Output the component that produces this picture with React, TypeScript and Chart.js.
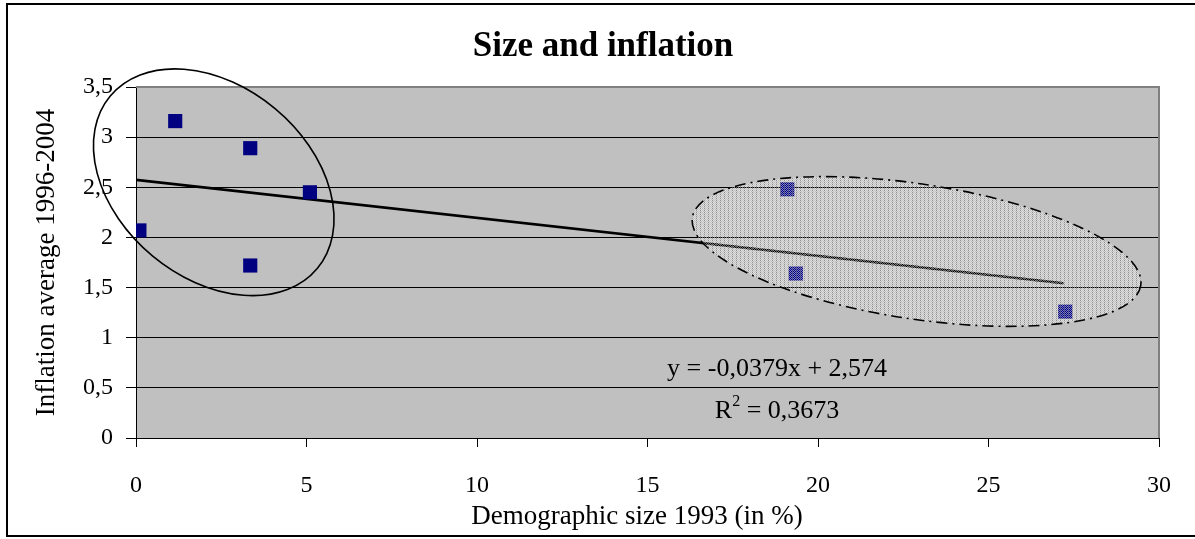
import React, { useEffect, useRef } from 'react';
import { Chart, registerables } from 'chart.js';

Chart.register(...registerables);

// ---- data ----
const sizeX = [0.1, 1.15, 3.35, 3.35, 5.1, 19.1, 19.35, 27.25];
const inflationY = [2.07, 3.16, 2.89, 1.72, 2.45, 2.48, 1.64, 1.26];
const trendX = [0, 27.2];
const trendY = [2.574, 1.543];
const xTickValues = [0, 5, 10, 15, 20, 25, 30];
const yTickValues = [0, 0.5, 1, 1.5, 2, 2.5, 3, 3.5];

const chartTitle = 'Size and inflation';
const xAxisTitle = 'Demographic size 1993 (in %)';
const yAxisTitle = 'Inflation average 1996-2004';
const equationText = 'y = -0,0379x + 2,574';
const r2Text = '0,3673';
const equationPos = [18.8, 0.69];
const r2Pos = [18.8, 0.27];

// ellipse annotations: centre (data), semi-axes (x-units), rotation (deg)
const ellipseCenterX = [2.28, 22.89];
const ellipseCenterY = [2.55, 1.86];
const ellipseSemiA = [3.95, 6.65];
const ellipseSemiB = [2.81, 1.98];
const ellipseRotation = [39.8, 8.6];

const SERIF = '"Liberation Serif", "Times New Roman", serif';

function makeStipple(): CanvasPattern | string {
  const c = document.createElement('canvas');
  c.width = 4;
  c.height = 2;
  const g = c.getContext('2d');
  if (!g) return 'rgba(220,220,220,0.5)';
  g.clearRect(0, 0, 4, 2);
  g.fillStyle = 'rgba(110,110,110,0.6)';
  g.fillRect(0, 0, 1, 1);
  g.fillStyle = 'rgba(255,255,255,0.5)';
  g.fillRect(1, 0, 1, 1);
  g.fillRect(3, 0, 1, 1);
  g.fillRect(2, 1, 1, 1);
  g.fillStyle = 'rgba(240,240,240,0.4)';
  g.fillRect(0, 1, 1, 1);
  const ctx = document.createElement('canvas').getContext('2d');
  return (ctx && ctx.createPattern(c, 'repeat')) || 'rgba(220,220,220,0.5)';
}

const decoPlugin = {
  id: 'deco',
  beforeDraw(chart: any) {
    const { ctx, chartArea, width, height } = chart;
    ctx.save();
    ctx.fillStyle = '#ffffff';
    ctx.fillRect(0, 0, width, height);
    ctx.strokeStyle = '#000000';
    ctx.lineWidth = 2;
    ctx.strokeRect(7, 4, width + 10, height - 7);
    ctx.fillStyle = '#c0c0c0';
    ctx.fillRect(chartArea.left, chartArea.top, chartArea.right - chartArea.left, chartArea.bottom - chartArea.top);
    ctx.restore();
  },
  beforeDatasetsDraw(chart: any) {
    const { ctx, chartArea } = chart;
    ctx.save();
    ctx.strokeStyle = '#808080';
    ctx.lineWidth = 2;
    ctx.beginPath();
    ctx.moveTo(chartArea.left, chartArea.top);
    ctx.lineTo(chartArea.right, chartArea.top);
    ctx.lineTo(chartArea.right, chartArea.bottom);
    ctx.stroke();
    ctx.restore();
  },
  afterDatasetsDraw(chart: any) {
    const { ctx } = chart;
    const xs = chart.scales.x;
    const ys = chart.scales.y;
    const pxPerUnit = xs.getPixelForValue(1) - xs.getPixelForValue(0);
    ctx.save();
    for (let i = 0; i < ellipseCenterX.length; i++) {
      const cx = xs.getPixelForValue(ellipseCenterX[i]);
      const cy = ys.getPixelForValue(ellipseCenterY[i]);
      const a = ellipseSemiA[i] * pxPerUnit;
      const b = ellipseSemiB[i] * pxPerUnit;
      const rot = (ellipseRotation[i] * Math.PI) / 180;
      ctx.beginPath();
      ctx.ellipse(cx, cy, a, b, rot, 0, Math.PI * 2);
      if (i === 1) {
        ctx.fillStyle = makeStipple();
        ctx.fill();
        ctx.setLineDash([11, 5, 2, 5]);
      } else {
        ctx.setLineDash([]);
      }
      ctx.strokeStyle = '#000000';
      ctx.lineWidth = 1.6;
      ctx.stroke();
    }
    ctx.restore();
  },
  afterDraw(chart: any) {
    const { ctx } = chart;
    const xs = chart.scales.x;
    const ys = chart.scales.y;
    ctx.save();
    ctx.fillStyle = '#000000';
    ctx.textAlign = 'center';
    ctx.textBaseline = 'middle';
    ctx.font = `bold 35px ${SERIF}`;
    ctx.fillText(chartTitle, 603, 47);
    ctx.font = `27px ${SERIF}`;
    ctx.fillText(xAxisTitle, 637, 517);

    ctx.font = `26px ${SERIF}`;
    ctx.fillText(equationText, xs.getPixelForValue(equationPos[0]), ys.getPixelForValue(equationPos[1]));

    // R² line with superscript
    const rx = xs.getPixelForValue(r2Pos[0]);
    const ry = ys.getPixelForValue(r2Pos[1]);
    const partR = 'R';
    const partSup = '2';
    const partRest = ' = ' + r2Text;
    ctx.font = `26px ${SERIF}`;
    const wR = ctx.measureText(partR).width;
    const wRest = ctx.measureText(partRest).width;
    ctx.font = `16px ${SERIF}`;
    const wSup = ctx.measureText(partSup).width;
    const total = wR + wSup + wRest;
    const x0 = rx - total / 2;
    ctx.textAlign = 'left';
    ctx.font = `26px ${SERIF}`;
    ctx.fillText(partR, x0, ry);
    ctx.font = `16px ${SERIF}`;
    ctx.fillText(partSup, x0 + wR, ry - 9);
    ctx.font = `26px ${SERIF}`;
    ctx.fillText(partRest, x0 + wR + wSup, ry);
    ctx.restore();
  },
};

const fmt = (v: number) => String(v).replace('.', ',');

export default function App() {
  const ref = useRef<HTMLCanvasElement | null>(null);

  useEffect(() => {
    document.body.style.margin = '0';
    const canvas = ref.current;
    if (!canvas) return;
    const chart = new Chart(canvas, {
      type: 'scatter',
      data: {
        datasets: [
          {
            label: 'Countries',
            data: sizeX.map((x, i) => ({ x, y: inflationY[i] })),
            pointStyle: 'rect',
            pointRadius: 10,
            pointHoverRadius: 10,
            backgroundColor: '#000080',
            borderColor: '#000080',
            borderWidth: 0,
            showLine: false,
          },
          {
            label: 'Trend',
            data: trendX.map((x, i) => ({ x, y: trendY[i] })),
            showLine: true,
            borderColor: '#000000',
            borderWidth: 2.6,
            pointRadius: 0,
            fill: false,
          },
        ],
      },
      options: {
        animation: false,
        responsive: false,
        devicePixelRatio: 1,
        events: [],
        layout: { padding: { top: 87, right: 27, left: 0, bottom: 0 } },
        plugins: {
          legend: { display: false },
          tooltip: { enabled: false },
          title: { display: false },
        },
        scales: {
          x: {
            type: 'linear',
            min: 0,
            max: 30,
            afterBuildTicks: (s: any) => {
              s.ticks = xTickValues.map((v) => ({ value: v }));
            },
            afterFit: (s: any) => {
              s.height = 101;
            },
            ticks: {
              color: '#000000',
              padding: 24,
              maxRotation: 0,
              font: { family: SERIF, size: 24 },
              callback: (v: any) => fmt(v),
            },
            grid: {
              drawOnChartArea: false,
              drawTicks: true,
              tickLength: 9,
              tickColor: '#000000',
              tickWidth: 1,
            },
            border: { color: '#000000', width: 1 },
          },
          y: {
            type: 'linear',
            min: 0,
            max: 3.5,
            afterBuildTicks: (s: any) => {
              s.ticks = yTickValues.map((v) => ({ value: v }));
            },
            afterFit: (s: any) => {
              s.width = 136;
            },
            ticks: {
              color: '#000000',
              padding: 13,
              font: { family: SERIF, size: 24 },
              callback: (v: any) => fmt(v),
            },
            grid: {
              color: (c: any) => (c.tick && c.tick.value === 3.5 ? '#808080' : '#000000'),
              lineWidth: 1,
              drawTicks: true,
              tickLength: 10,
              tickColor: '#000000',
            },
            border: { color: '#000000', width: 1 },
            title: {
              display: true,
              text: yAxisTitle,
              color: '#000000',
              font: { family: SERIF, size: 27 },
              padding: { top: 31, bottom: 0 },
            },
          },
        },
      },
      plugins: [decoPlugin],
    });
    return () => chart.destroy();
  }, []);

  return (
    <div style={{ position: 'absolute', left: 0, top: 0, width: 1195, height: 539 }}>
      <canvas ref={ref} width={1195} height={539} style={{ width: 1195, height: 539, display: 'block' }} />
    </div>
  );
}
